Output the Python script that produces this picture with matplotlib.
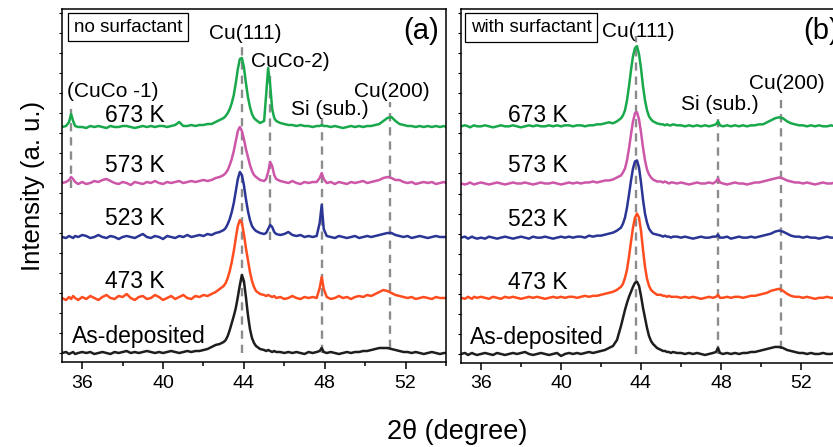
import matplotlib
matplotlib.use("Agg")
import matplotlib.pyplot as plt
from matplotlib.ticker import MultipleLocator

plt.rcParams['font.family'] = ['Liberation Sans', 'DejaVu Sans']

# 2theta sampling (degree), shared by all patterns
two_theta = [35.0, 35.2, 35.35, 35.45, 35.55, 35.65, 35.8,
             36.0, 36.2, 36.4, 36.6, 36.8, 37.0, 37.2, 37.4, 37.6, 37.8,
             38.0, 38.2, 38.4, 38.6, 38.8, 39.0, 39.2, 39.4, 39.6, 39.8,
             40.0, 40.2, 40.4, 40.6, 40.8, 41.0, 41.2, 41.4, 41.6, 41.8,
             42.0, 42.2, 42.4, 42.6, 42.8,
             43.0, 43.1, 43.2, 43.3, 43.4, 43.5, 43.6, 43.7, 43.8, 43.9, 44.0, 44.1, 44.2, 44.3, 44.4, 44.5, 44.6,
             44.8, 45.0, 45.1, 45.2, 45.3, 45.4, 45.5, 45.6, 45.8,
             46.0, 46.2, 46.4, 46.6, 46.8, 47.0, 47.2, 47.4, 47.6,
             47.75, 47.85, 47.95,
             48.1, 48.3, 48.5, 48.7, 48.9, 49.1, 49.3, 49.5, 49.7, 49.9,
             50.1, 50.3, 50.5, 50.7, 50.9, 51.1, 51.3, 51.5, 51.7, 51.9,
             52.1, 52.3, 52.5, 52.7, 52.9, 53.1, 53.3, 53.5, 53.7, 53.9,
             54.0]

labels = ["As-deposited", "473 K", "523 K", "573 K", "673 K"]
colors = ["#1e1e1e", "#ff4d1f", "#2b3595", "#cc56a8", "#19a84b"]

# (a) no surfactant
a_asdep = [0, 1, -1, 0, 1, -1, 0,
           1, 0, 1, -1, 0, 1, 0, -1, 1, 0,
           1, 2, 0, 1, 0, 1, 2, 1, 0, 1,
           0, 1, 2, 1, 0, 1, 2, 1, 2, 2,
           3, 4, 6, 8, 9,
           11, 13, 17, 23, 30, 37, 45, 56, 68, 78, 72, 56, 38, 24, 15, 10, 7,
           4, 3, 2, 3, 2, 1, 2, 1, 1,
           0, 1, 0, 1, 0, -1, 1, 0, 1,
           2, 5, 1,
           0, 1, 0, -1, 0, 1, 0, 1, 1, 2,
           2, 3, 4, 5, 5, 5, 4, 3, 2, 1,
           1, 0, 1, 0, -1, 0, 1, 0, -1, 0,
           0]
a_473 = [0, -2, 1, -1, 2, 0, -2,
         1, -1, 2, 0, -2, 1, 3, 0, -1, 2,
         1, 4, 0, -2, 1, 2, -1, 0, 3, 1,
         -2, 0, 2, -1, 1, 3, 0, -1, 2, 1,
         3, 2, 4, 6, 9,
         12, 15, 20, 27, 36, 47, 60, 72, 78, 75, 64, 50, 38, 26, 17, 11, 7,
         4, 3, 2, 3, 2, 1, 2, 0, 1,
         -1, 0, 2, 0, -1, 1, 0, 1, 0,
         10, 21, 9,
         1, -1, 0, 2, 0, 1, -1, 1, 2, 1,
         3, 2, 4, 6, 8, 7, 5, 3, 2, 1,
         0, 1, -1, 0, 1, 0, -1, 1, 0, 0,
         0]
a_523 = [0, -1, 1, 0, -1, 1, 0,
         2, 1, -1, 0, 2, 0, -1, 1, 0, -2,
         0, 1, 0, -1, 1, 3, 0, -1, 1, 0,
         -2, 1, 0, -1, 1, 0, 2, 0, 1, 2,
         1, 3, 2, 4, 5,
         7, 9, 13, 18, 25, 34, 46, 58, 65, 62, 52, 38, 26, 17, 11, 8, 6,
         4, 3, 4, 8, 12, 10, 5, 3, 2,
         3, 5, 2, 1, 2, 0, 1, 0, 1,
         14, 32, 8,
         1, 0, -1, 1, 0, -1, 0, 1, -1, 0,
         1, 0, 1, 2, 3, 4, 4, 2, 1, 0,
         1, -1, 0, 1, 0, -1, 0, 1, 0, 0,
         0]
a_573 = [0, 1, 3, 6, 4, 1, -1,
         1, -1, 0, 2, 1, 3, 4, 2, 0, -1,
         1, 0, -2, 1, 0, -1, 1, 0, 2, 0,
         -1, 1, 0, 1, 2, 0, 1, 2, 1, 2,
         3, 2, 3, 5, 6,
         8, 10, 13, 18, 24, 32, 42, 52, 56, 52, 44, 34, 26, 18, 12, 8, 6,
         3, 2, 4, 11, 21, 17, 8, 4, 2,
         1, 0, 2, 0, -1, 1, 0, 1, 1,
         5, 10, 4,
         0, 1, -1, 1, 0, -1, 1, 0, 1, 2,
         0, 1, 2, 3, 5, 6, 5, 3, 3, 1,
         0, 1, -1, 0, 1, 0, 1, -1, 0, 1,
         0]
a_673 = [0, 1, 5, 13, 6, 1, 0,
         0, -1, 1, 0, 1, 0, -1, 1, 0, 0,
         1, 1, 0, -1, 0, 1, 0, 1, 0, 1,
         1, 0, 1, 2, 5, 1, 1, 2, 1, 2,
         2, 3, 3, 5, 7,
         9, 11, 14, 18, 24, 32, 44, 58, 68, 69, 60, 44, 30, 20, 13, 9, 7,
         4, 6, 32, 59, 42, 18, 9, 6, 4,
         3, 2, 2, 1, 2, 1, 1, 0, 1,
         1, 2, 1,
         1, 0, 1, 0, -1, 0, 1, 0, 1, 0,
         1, 1, 2, 3, 6, 9, 10, 6, 3, 2,
         1, 1, 0, 1, 0, 1, 0, 1, 0, 1,
         0]

# (b) with surfactant
b_asdep = [0, 1, -1, 0, 1, 0, -1,
           0, 1, 0, -1, 1, 0, -1, 0, 1, 0,
           1, 2, 0, -1, 0, 1, 0, -1, 0, 1,
           -2, 0, 1, 0, 1, 0, 1, 2, 1, 2,
           3, 4, 6, 8, 14,
           28, 36, 44, 51, 57, 62, 67, 71, 72, 68, 58, 46, 36, 26, 18, 13, 10,
           6, 4, 3, 3, 2, 2, 1, 2, 1,
           1, 0, 1, 0, 1, 0, -1, 0, 1,
           2, 6, 1,
           0, 1, 0, 1, 0, 1, 1, 2, 2, 3,
           4, 5, 6, 7, 7, 6, 4, 3, 2, 1,
           1, 0, 1, 0, 0, 1, 0, 0, 1, 0,
           0]
b_473 = [0, -1, 1, 0, -1, 1, 0,
         1, 0, -1, 1, 0, -1, 1, 0, 1, 0,
         -1, 0, 1, 0, 1, 0, -1, 0, 1, 0,
         1, 0, 1, 1, 0, 1, 2, 1, 2, 2,
         3, 4, 5, 6, 8,
         11, 14, 20, 28, 41, 56, 70, 80, 84, 80, 67, 48, 31, 19, 12, 8, 6,
         3, 3, 2, 2, 1, 2, 1, 1, 1,
         0, 1, 0, 1, 0, -1, 0, 1, 0,
         1, 3, 0,
         0, 1, 0, 1, 1, 0, 1, 2, 2, 3,
         4, 5, 7, 8, 9, 7, 4, 2, 1, 1,
         0, 1, 0, -1, 0, 0, 1, 0, 0, 0,
         0]
b_523 = [0, 1, -1, 0, 1, 0, -1,
         0, -1, 1, 0, -1, 0, 1, 0, -1, 0,
         1, 0, -1, 1, 0, 0, 1, 0, -1, 0,
         1, 0, 1, 0, 1, 1, 0, 2, 1, 2,
         2, 3, 4, 5, 7,
         10, 14, 20, 30, 43, 57, 69, 76, 77, 70, 55, 38, 24, 15, 9, 6, 4,
         3, 2, 1, 2, 1, 1, 0, 1, 1,
         0, 1, 0, -1, 0, 1, 0, 0, 1,
         1, 3, 0,
         0, 1, -1, 0, 1, 0, 0, 1, 0, 1,
         2, 3, 4, 6, 7, 6, 4, 2, 1, 1,
         0, 1, 0, 0, -1, 0, 1, 0, 0, 1,
         0]
b_573 = [0, -1, 0, 1, 0, -1, 0,
         1, 0, -1, 0, 1, 0, -1, 0, 1, 0,
         0, 1, 0, -1, 0, 1, 0, 0, 1, 0,
         -1, 0, 1, 0, 1, 0, 1, 1, 2, 1,
         2, 3, 3, 4, 6,
         8, 11, 15, 23, 35, 49, 62, 70, 71, 64, 51, 36, 23, 14, 9, 6, 4,
         2, 2, 1, 2, 1, 0, 1, 1, 0,
         1, 0, -1, 0, 1, 0, 0, 1, 0,
         2, 5, 1,
         0, -1, 0, 1, 0, 0, -1, 0, 1, 1,
         2, 3, 4, 5, 6, 5, 3, 2, 1, 1,
         0, 1, 0, -1, 0, 1, 0, 0, 1, 0,
         0]
b_673 = [0, 1, 0, -1, 0, 1, 0,
         0, 1, 0, -1, 0, 1, 0, 0, 1, 0,
         -1, 0, 1, 0, 1, 0, 0, 1, 0, 1,
         0, 1, 1, 0, 1, 1, 0, 1, 1, 2,
         2, 3, 4, 3, 5,
         8, 11, 16, 26, 40, 56, 70, 78, 80, 72, 58, 40, 26, 16, 10, 7, 5,
         3, 2, 2, 1, 2, 1, 1, 2, 1,
         1, 0, 1, 0, 1, 0, 1, 0, 1,
         2, 5, 1,
         0, 1, 0, 1, 0, 1, 0, 1, 1, 2,
         2, 4, 6, 8, 9, 8, 5, 3, 2, 1,
         1, 0, 1, 0, 1, 0, 0, 1, 0, 1,
         0]

offsets_a = [0, 55, 116, 170, 226]
offsets_b = [0, 56, 116, 170, 227]

# reference lines: position, top, bottom
ref_a_pos = [35.45, 43.9, 45.3, 47.85, 51.25]
ref_a_top = [249, 309, 281, 235, 251]
ref_a_bot = [165, 0, 113, 0, 5]
ref_b_pos = [43.75, 47.85, 51.0]
ref_b_top = [317, 240, 258]
ref_b_bot = [0, 0, 5]

peak_a_text = ["(CuCo -1)", "Cu(111)", "CuCo-2)", "Si (sub.)", "Cu(200)"]
peak_a_x = [37.5, 44.08, 46.31, 48.24, 51.34]
peak_a_y = [256, 314, 286, 238, 256]
peak_b_text = ["Cu(111)", "Si (sub.)", "Cu(200)"]
peak_b_x = [43.85, 47.95, 51.28]
peak_b_y = [316, 243, 264]

label_y = [10, 65, 128, 181, 231]

fig = plt.figure(figsize=(8.33, 4.47), dpi=100)
ax_a = fig.add_axes([62 / 833, 85 / 447, 384 / 833, 353 / 447])
ax_b = fig.add_axes([461 / 833, 84 / 447, 380 / 833, 354 / 447])

panels = [
    (ax_a, [a_asdep, a_473, a_523, a_573, a_673], offsets_a,
     ref_a_pos, ref_a_top, ref_a_bot, peak_a_text, peak_a_x, peak_a_y,
     "no surfactant", 0.172, "(a)", 0.935, [35.5, 37.13]),
    (ax_b, [b_asdep, b_473, b_523, b_573, b_673], offsets_b,
     ref_b_pos, ref_b_top, ref_b_bot, peak_b_text, peak_b_x, peak_b_y,
     "with surfactant", 0.184, "(b)", 0.947, [35.45, 37.35]),
]

for (ax, curves, offs, rpos, rtop, rbot, ptxt, px, py,
     boxtxt, boxx, tag, tagx, lx) in panels:
    ax.vlines(rpos, rbot, rtop, colors="#8c8c8c", linewidth=1.7,
              linestyles=(0, (3.5, 2.5)), zorder=1)
    for curve, off, col in zip(curves, offs, colors):
        ax.plot(two_theta, [v + off for v in curve], color=col, lw=1.8, zorder=2)
    for i, lab in enumerate(labels):
        xx = lx[0] if i == 0 else lx[1]
        ax.text(xx, label_y[i], lab, fontsize=16.5, va="baseline", ha="left")
    for t, x, y in zip(ptxt, px, py):
        ax.text(x, y, t, fontsize=15, ha="center", va="baseline")
    ax.text(boxx, 0.948, boxtxt, transform=ax.transAxes, fontsize=13.5,
            ha="center", va="center",
            bbox=dict(boxstyle="square,pad=0.3", fc="white", ec="black", lw=0.9))
    ax.text(tagx, 0.938, tag, transform=ax.transAxes, fontsize=21,
            ha="center", va="center")

    ax.set_xlim(35, 54)
    ax.set_ylim(-9, 344)
    ax.xaxis.set_minor_locator(MultipleLocator(2))
    ax.yaxis.set_major_locator(MultipleLocator(20))
    ax.set_xticks([36, 40, 44, 48, 52])
    ax.tick_params(axis="x", which="major", direction="out", length=5,
                   width=1.1, labelsize=14, pad=4)
    ax.tick_params(axis="x", which="minor", direction="out", length=3, width=1.1)
    ax.tick_params(axis="y", which="major", direction="out", length=2,
                   width=0.8, labelleft=False)
    for s in ax.spines.values():
        s.set_linewidth(1.1)

ax_a.set_ylabel("Intensity (a. u.)", fontsize=18.5, labelpad=10)
fig.text(457 / 833, 15 / 447, "2θ (degree)", fontsize=19.5, ha="center", va="center")

fig.savefig("out.png", dpi=100)
